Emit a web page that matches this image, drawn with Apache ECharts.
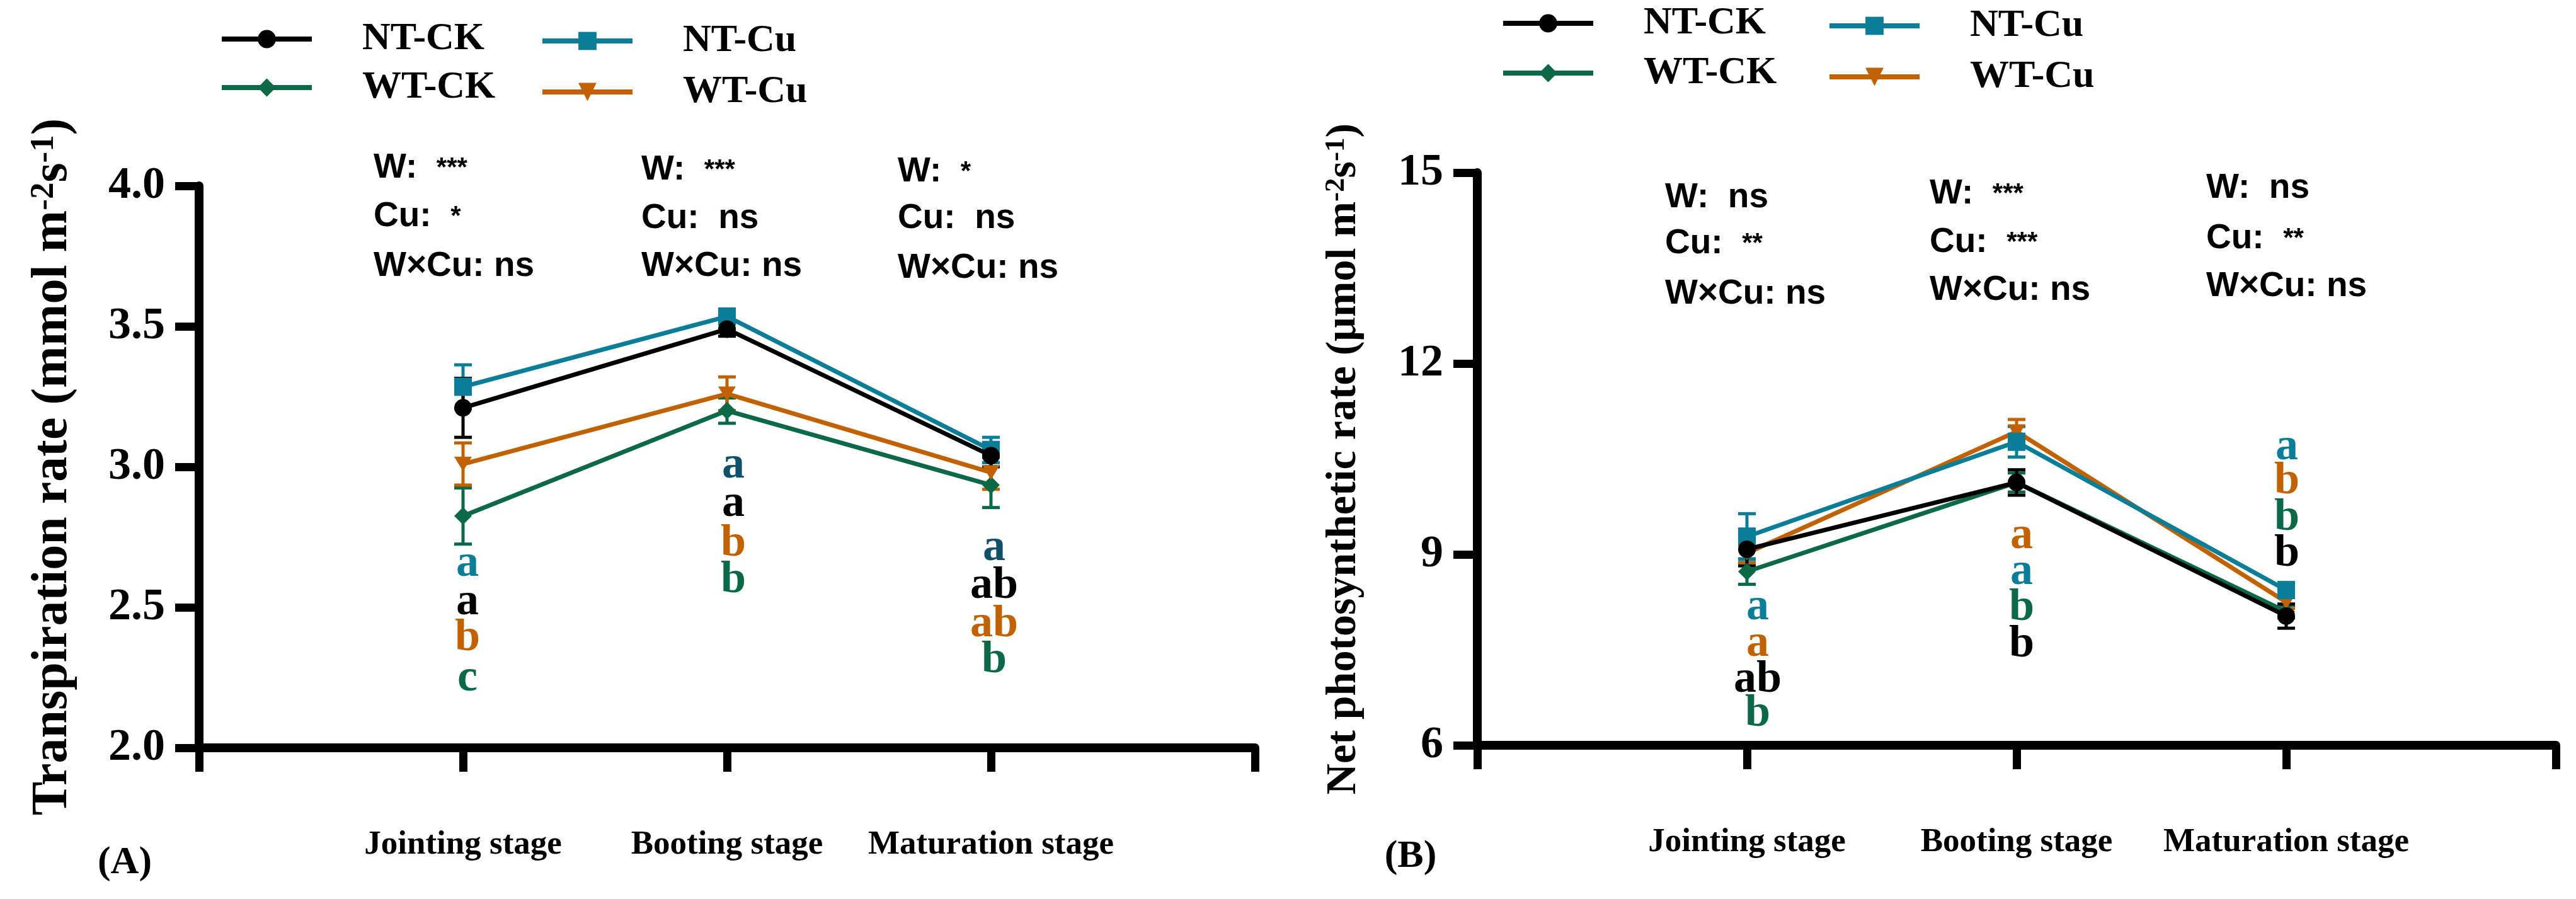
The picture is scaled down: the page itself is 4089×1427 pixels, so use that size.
<!DOCTYPE html>
<html><head><meta charset="utf-8">
<script src="https://cdn.jsdelivr.net/npm/echarts@6/dist/echarts.min.js"></script>
<style>html,body{margin:0;padding:0;background:#fff;overflow:hidden}#c{width:4089px;height:1427px}</style>
</head><body><div id="c"></div>
<script>
// ---------- data ----------
const stages = ['Jointing stage', 'Booting stage', 'Maturation stage'];
const seriesNames = ['NT-CK', 'NT-Cu', 'WT-CK', 'WT-Cu'];

// Panel A: Transpiration rate (mmol m-2 s-1)
const trNTCK = [3.21, 3.49, 3.04];
const trNTCKerr = [0.105, 0.025, 0.04];
const trNTCu = [3.285, 3.535, 3.06];
const trNTCuerr = [0.078, 0.02, 0.045];
const trWTCK = [2.825, 3.20, 2.935];
const trWTCKerr = [0.10, 0.045, 0.08];
const trWTCu = [3.01, 3.26, 2.98];
const trWTCuerr = [0.075, 0.06, 0.06];
const trTicks = [2.0, 2.5, 3.0, 3.5, 4.0];

// Panel B: Net photosynthetic rate (umol m-2 s-1)
const pnNTCK = [9.08, 10.13, 8.03];
const pnNTCKerr = [0.26, 0.2, 0.19];
const pnNTCu = [9.28, 10.77, 8.44];
const pnNTCuerr = [0.36, 0.24, 0.08];
const pnWTCK = [8.73, 10.13, 8.10];
const pnWTCKerr = [0.2, 0.15, 0.1];
const pnWTCu = [9.02, 10.93, 8.25];
const pnWTCuerr = [0.15, 0.19, 0.1];
const pnTicks = [6, 9, 12, 15];

// ANOVA significance per stage: [W, Cu, WxCu]
const anovaA = [['***', '*', 'ns'], ['***', 'ns', 'ns'], ['*', 'ns', 'ns']];
const anovaB = [['ns', '**', 'ns'], ['***', '***', 'ns'], ['ns', '**', 'ns']];

// letters per stage: [letter, colour group]
const lettersA = [
  [['a', 'NT-Cu'], ['a', 'NT-CK'], ['b', 'WT-Cu'], ['c', 'WT-CK']],
  [['a', 'NT-Cu2'], ['a', 'NT-CK'], ['b', 'WT-Cu'], ['b', 'WT-CK']],
  [['a', 'NT-Cu2'], ['ab', 'NT-CK'], ['ab', 'WT-Cu'], ['b', 'WT-CK']]
];
const lettersB = [
  [['a', 'NT-Cu'], ['a', 'WT-Cu'], ['ab', 'NT-CK'], ['b', 'WT-CK']],
  [['a', 'WT-Cu'], ['a', 'NT-Cu'], ['b', 'WT-CK'], ['b', 'NT-CK']],
  [['a', 'NT-Cu'], ['b', 'WT-Cu'], ['b', 'WT-CK'], ['b', 'NT-CK']]
];

// ---------- styles ----------
const colors = { 'NT-CK': '#000000', 'NT-Cu': '#0a7d98', 'WT-CK': '#0b6a45', 'WT-Cu': '#c26100', 'NT-Cu2': '#10506b' };
const symbols = {
  'NT-CK': { symbol: 'circle', size: 28 },
  'NT-Cu': { symbol: 'rect', size: [28, 29] },
  'WT-CK': { symbol: 'diamond', size: [28, 28] },
  'WT-Cu': { symbol: 'path://M0,0 L10,0 L5,8 Z', size: [28, 23] }
};
const SERIF = 'Liberation Serif, Times New Roman, serif';
const SANS = 'Liberation Sans, Arial, sans-serif';

const panelA = { vals: { 'NT-CK': trNTCK, 'NT-Cu': trNTCu, 'WT-CK': trWTCK, 'WT-Cu': trWTCu },
  errs: { 'NT-CK': trNTCKerr, 'NT-Cu': trNTCuerr, 'WT-CK': trWTCKerr, 'WT-Cu': trWTCuerr } };
const panelB = { vals: { 'NT-CK': pnNTCK, 'NT-Cu': pnNTCu, 'WT-CK': pnWTCK, 'WT-Cu': pnWTCu },
  errs: { 'NT-CK': pnNTCKerr, 'NT-Cu': pnNTCuerr, 'WT-CK': pnWTCKerr, 'WT-Cu': pnWTCuerr } };

function errRender(color) {
  return function (params, api) {
    const x = api.value(0), y = api.value(1), e = api.value(2);
    const hi = api.coord([x, y + e]), lo = api.coord([x, y - e]);
    const w = 14;
    const st = { stroke: color, lineWidth: 5 };
    return { type: 'group', children: [
      { type: 'line', shape: { x1: hi[0], y1: hi[1], x2: lo[0], y2: lo[1] }, style: st },
      { type: 'line', shape: { x1: hi[0] - w, y1: hi[1], x2: hi[0] + w, y2: hi[1] }, style: st },
      { type: 'line', shape: { x1: lo[0] - w, y1: lo[1], x2: lo[0] + w, y2: lo[1] }, style: st }
    ] };
  };
}

const drawOrder = ['WT-CK', 'WT-Cu', 'NT-Cu', 'NT-CK'];
const series = [];
[panelA, panelB].forEach((p, pi) => {
  drawOrder.forEach((n, k) => {
    series.push({
      name: 'err-' + n + '-' + pi, type: 'custom', xAxisIndex: pi, yAxisIndex: pi,
      renderItem: errRender(colors[n]), encode: { x: 0, y: 1 }, z: 2 + k,
      data: p.vals[n].map((v, i) => [i + 1, v, p.errs[n][i]]), silent: true
    });
  });
  drawOrder.forEach((n, k) => {
    series.push({
      name: n, type: 'line', xAxisIndex: pi, yAxisIndex: pi,
      data: p.vals[n].map((v, i) => [i + 1, v]),
      symbol: symbols[n].symbol, symbolSize: symbols[n].size, showSymbol: true,
      color: colors[n],
      lineStyle: { color: colors[n], width: 7 }, itemStyle: { color: colors[n], borderWidth: 0 },
      z: 10 + k, silent: true
    });
  });
});

function xAxisCfg(gi) {
  return {
    type: 'value', gridIndex: gi, min: 0, max: 4, interval: 1,
    axisLine: { show: true, lineStyle: { color: '#000', width: 14 } },
    axisTick: { show: true, length: 38, lineStyle: { color: '#000', width: 13 } },
    splitLine: { show: false },
    axisLabel: { margin: 128, formatter: v => stages[v - 1] || '', fontFamily: SERIF, fontWeight: 'bold', fontSize: 53, color: '#000', showMinLabel: true, showMaxLabel: true }
  };
}
function yAxisCfg(gi, ticks, fmt, nameRich, gap, fs) {
  return {
    type: 'value', gridIndex: gi, min: ticks[0], max: ticks[ticks.length - 1], interval: ticks[1] - ticks[0],
    axisLine: { show: true, lineStyle: { color: '#000', width: 14 } },
    axisTick: { show: true, length: 38, lineStyle: { color: '#000', width: 13 } },
    splitLine: { show: false },
    axisLabel: { margin: 54, formatter: fmt, fontFamily: SERIF, fontWeight: 'bold', fontSize: 72, color: '#000' },
    name: nameRich, nameLocation: 'middle', nameRotate: 90, nameGap: gap,
    nameTextStyle: { color: '#000', fontFamily: SERIF, fontWeight: 'bold', fontSize: fs,
      rich: { t: { fontFamily: SERIF, fontWeight: 'bold', fontSize: fs, color: '#000' },
              sup: { fontFamily: SERIF, fontWeight: 'bold', fontSize: Math.round(fs * 0.66), color: '#000', verticalAlign: 'top' } } }
  };
}

// legends
const legendPos = [
  [[348, 63], [857, 66], [348, 140], [857, 147]],
  [[2382, 38], [2900, 42], [2382, 117], [2900, 123]]
];
const legends = [];
legendPos.forEach(pos => {
  seriesNames.forEach((n, i) => {
    legends.push({
      data: [n], left: pos[i][0], top: pos[i][1] - 32, padding: 0, selectedMode: false,
      itemWidth: 143, itemHeight: 36,
      lineStyle: { width: 8 },
      textStyle: { fontFamily: SERIF, fontWeight: 'bold', fontSize: 62, color: '#000', padding: [0, 0, 0, 75] }
    });
  });
});

// graphic texts
const graphics = [];
const anovaPos = [
  [[593, [267, 344, 423]], [1018, [270, 347, 423]], [1425, [273, 347, 426]]],
  [[2643, [314, 387, 467]], [3063, [308, 385, 461]], [3502, [299, 379, 455]]]
];
[anovaA, anovaB].forEach((an, pi) => {
  an.forEach((g, si) => {
    const [x, ys] = anovaPos[pi][si];
    const labels = ['W:  ', 'Cu:  ', 'W×Cu: '];
    g.forEach((sig, li) => {
      const isStar = sig.indexOf('*') >= 0;
      graphics.push({
        type: 'text', x: x, y: ys[li], silent: true,
        style: {
          text: labels[li] + (isStar ? '{s|' + sig + '}' : sig),
          fontFamily: SANS, fontWeight: 'bold', fontSize: 55, fill: '#000',
          textVerticalAlign: 'middle', textAlign: 'left',
          rich: { s: { fontFamily: SANS, fontWeight: 'bold', fontSize: 42, fill: '#000' } }
        }
      });
    });
  });
});

const letterPos = [
  [[742, [895, 956, 1013, 1077]], [1164, [739, 800, 863, 921]], [1578, [870, 930, 991, 1048]]],
  [[2790, [964, 1022, 1079, 1133]], [3209, [851, 908, 965, 1023]], [3630, [710, 764, 822, 879]]]
];
[lettersA, lettersB].forEach((L, pi) => {
  L.forEach((st, si) => {
    const [x, ys] = letterPos[pi][si];
    st.forEach((it, k) => {
      graphics.push({
        type: 'text', x: x, y: ys[k], silent: true,
        style: { text: it[0], fontFamily: SERIF, fontWeight: 'bold', fontSize: 72, fill: colors[it[1]],
          textAlign: 'center', textVerticalAlign: 'middle' }
      });
    });
  });
});
[['(A)', 198, 1370], ['(B)', 2239, 1360]].forEach(t => {
  graphics.push({ type: 'text', x: t[1], y: t[2], silent: true,
    style: { text: t[0], fontFamily: SERIF, fontWeight: 'bold', fontSize: 62, fill: '#000', textAlign: 'center', textVerticalAlign: 'middle' } });
});

const option = {
  animation: false,
  backgroundColor: '#fff',
  grid: [
    { left: 316, width: 1676, top: 295, height: 892 },
    { left: 2345, width: 1712, top: 274, height: 909 }
  ],
  xAxis: [xAxisCfg(0), xAxisCfg(1)],
  yAxis: [
    yAxisCfg(0, trTicks, v => v.toFixed(1), '{t|Transpiration rate (mmol m}{sup|-2}{t|s}{sup|-1}{t|)}', 192, 80),
    yAxisCfg(1, pnTicks, v => String(v), '{t|Net photosynthetic rate (μmol m}{sup|-2}{t|s}{sup|-1}{t|)}', 178, 68)
  ],
  legend: legends,
  series: series,
  graphic: graphics
};
const chart = echarts.init(document.getElementById('c'), null, { renderer: 'canvas' });
chart.setOption(option);
</script></body></html>
